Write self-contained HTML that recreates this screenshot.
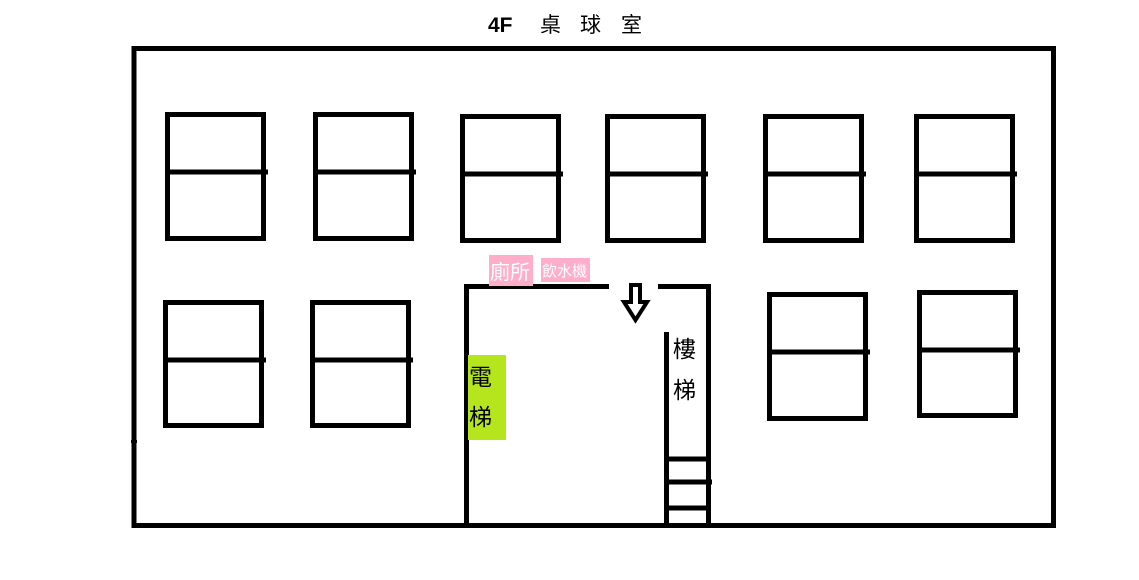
<!DOCTYPE html>
<html><head><meta charset="utf-8"><style>
html,body{margin:0;padding:0;background:#fff;width:1139px;height:580px;overflow:hidden}
svg{display:block}
text{font-family:"Liberation Sans","Noto Sans CJK TC",sans-serif}
</style></head><body>
<svg width="1139" height="580" viewBox="0 0 1139 580" xmlns="http://www.w3.org/2000/svg">
<g fill="none" stroke="#000" stroke-width="5">
<rect x="134" y="48.5" width="919.5" height="477"/>
<!-- row 1 tables -->
<rect x="167.5" y="114.5" width="96" height="124"/><line x1="165" y1="172" x2="268" y2="172"/>
<rect x="315.5" y="114.5" width="96" height="124"/><line x1="313" y1="172" x2="416" y2="172"/>
<rect x="462.5" y="116.5" width="96" height="124"/><line x1="460" y1="174" x2="563" y2="174"/>
<rect x="607.5" y="116.5" width="96" height="124"/><line x1="605" y1="174" x2="708" y2="174"/>
<rect x="765.5" y="116.5" width="96" height="124"/><line x1="763" y1="174" x2="866" y2="174"/>
<rect x="916.5" y="116.5" width="96" height="124"/><line x1="914" y1="174" x2="1017" y2="174"/>
<!-- row 2 tables -->
<rect x="165.5" y="302.5" width="96" height="123"/><line x1="163" y1="360" x2="266" y2="360"/>
<rect x="312.5" y="302.5" width="96" height="123"/><line x1="310" y1="360" x2="413" y2="360"/>
<rect x="769.5" y="294.5" width="96" height="124"/><line x1="767" y1="352" x2="870" y2="352"/>
<rect x="919.5" y="292.5" width="96" height="123"/><line x1="917" y1="350" x2="1020" y2="350"/>
<!-- center room -->
<polyline points="609,286.5 466.5,286.5 466.5,526"/>
<polyline points="658,286.5 708.5,286.5 708.5,526"/>
<line x1="666.5" y1="332" x2="666.5" y2="526"/>
<line x1="666" y1="459" x2="708" y2="459"/>
<line x1="666" y1="482" x2="712" y2="482"/>
<line x1="666" y1="508" x2="708" y2="508"/>
</g>
<path d="M631,285 H640 V302 H647 L635.5,320 L624,302 H631 Z" fill="#fff" stroke="#000" stroke-width="4" stroke-linejoin="miter"/>
<rect x="975" y="46" width="4" height="3" fill="#000"/>
<rect x="131" y="440" width="6" height="3" fill="#000"/>
<rect x="468" y="355" width="38" height="85" fill="#b5e61d"/>
<text x="469" y="385" font-size="23" fill="#000">電</text>
<text x="469" y="425" font-size="23" fill="#000">梯</text>
<rect x="489" y="255" width="44" height="31" fill="#ffaec9"/>
<text x="490" y="279" font-size="20" fill="#fff">廁所</text>
<rect x="541" y="258" width="49" height="24" fill="#ffaec9"/>
<text x="542" y="276" font-size="15" fill="#fff">飲水機</text>
<text x="673" y="357" font-size="23" fill="#000">樓</text>
<text x="673" y="398" font-size="23" fill="#000">梯</text>
<text x="488" y="32" font-size="21" font-weight="bold" fill="#000">4F</text>
<text x="540" y="32" font-size="21" fill="#000">桌</text>
<text x="580" y="32" font-size="21" fill="#000">球</text>
<text x="621" y="32" font-size="21" fill="#000">室</text>
</svg>
</body></html>
